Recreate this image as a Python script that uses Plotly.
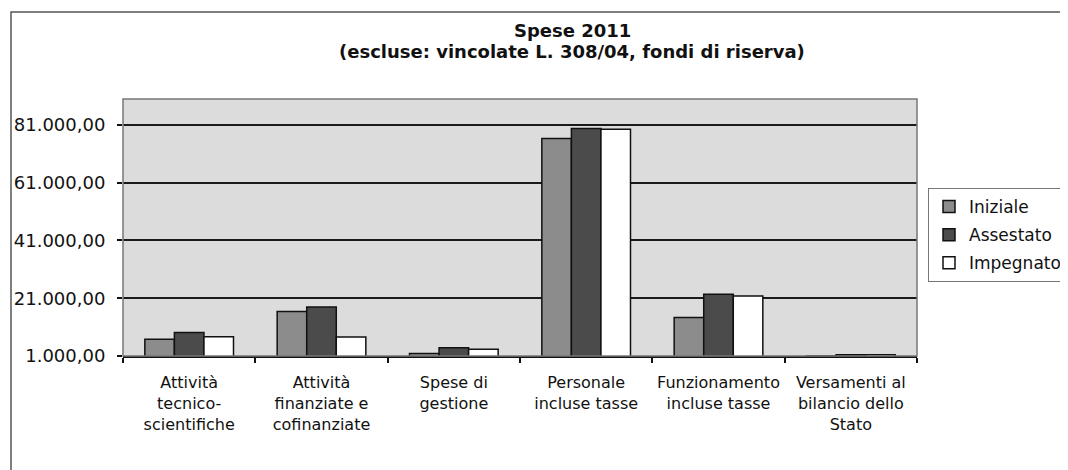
import plotly.graph_objects as go

categories = [
    "Attività<br>tecnico-<br>scientifiche",
    "Attività<br>finanziate e<br>cofinanziate",
    "Spese di<br>gestione",
    "Personale<br>incluse tasse",
    "Funzionamento<br>incluse tasse",
    "Versamenti al<br>bilancio dello<br>Stato",
]
iniziale = [6800, 16400, 1900, 76300, 14300, 1000]
assestato = [9100, 18000, 3900, 79800, 22400, 1400]
impegnato = [7700, 7600, 3300, 79500, 21800, 1400]

tick_vals = [1000, 21000, 41000, 61000, 81000]
tick_text = ["1.000,00", "21.000,00", "41.000,00", "61.000,00", "81.000,00"]

# page body has an 8px margin: work in screenshot pixels, subtract the offset
OFF = 8
W, H = 1068 - OFF, 470 - OFF
L, R, T, B = 123 - OFF, 917 - OFF, 99 - OFF, 356 - OFF

font_family = "DejaVu Sans, Arial, sans-serif"

fig = go.Figure()
series = [
    ("Iniziale", iniziale, "#8c8c8c"),
    ("Assestato", assestato, "#4b4b4b"),
    ("Impegnato", impegnato, "#ffffff"),
]
for name, vals, color in series:
    fig.add_trace(go.Bar(
        name=name, x=categories, y=vals, legendgroup=name,
        marker=dict(color=color, line=dict(color="#111111", width=1.5)),
    ))

def px_x(p):
    return (p - OFF - L) / (R - L)

def px_y(p):
    return (B - (p - OFF)) / (B - T)

fig.update_layout(
    width=W, height=H,
    margin=dict(l=L, r=W - R, t=T, b=H - B, autoexpand=False),
    paper_bgcolor="white",
    plot_bgcolor="#dcdcdc",
    font=dict(family=font_family, color="#111111"),
    barmode="group", bargap=0.33, bargroupgap=0,
    legend=dict(
        x=px_x(928), y=px_y(188), xanchor="left", yanchor="top",
        bordercolor="#777777", borderwidth=1, bgcolor="white",
        font=dict(size=17, family=font_family, color="#111111"),
        tracegroupgap=3, traceorder="grouped",
    ),
    xaxis=dict(
        showline=True, linecolor="#111111", linewidth=2,
        ticks="outside", ticklen=5, tickcolor="#111111", tickwidth=1.5,
        tickson="boundaries", showgrid=False,
        tickfont=dict(size=16, family=font_family, color="#111111"),
        ticklabelstandoff=11,
    ),
    yaxis=dict(
        range=[1000, 90000], tickvals=tick_vals, ticktext=tick_text,
        showgrid=True, gridcolor="#1a1a1a", gridwidth=1.5,
        ticks="outside", ticklen=5, tickcolor="#111111", tickwidth=1.5,
        showline=False, zeroline=False,
        tickfont=dict(size=18, family=font_family, color="#111111"),
        ticklabelstandoff=8,
    ),
    annotations=[
        dict(text="<b>Spese 2011</b>", xref="paper", yref="paper",
             x=px_x(572), y=px_y(30), xanchor="center", yanchor="middle",
             showarrow=False, font=dict(size=18, family=font_family, color="#111111")),
        dict(text="<b>(escluse: vincolate L. 308/04, fondi di riserva)</b>",
             xref="paper", yref="paper",
             x=px_x(572), y=px_y(52), xanchor="center", yanchor="middle",
             showarrow=False, font=dict(size=18, family=font_family, color="#111111")),
    ],
    shapes=[
        dict(type="rect", xref="paper", yref="paper", x0=0, x1=1, y0=0, y1=1,
             line=dict(color="#777777", width=1.5), layer="above"),
        dict(type="rect", xref="paper", yref="paper",
             x0=px_x(11), x1=px_x(1090), y0=px_y(490), y1=px_y(12),
             line=dict(color="#555555", width=1.5), layer="above"),
    ],
)

fig.write_html("out.html")
